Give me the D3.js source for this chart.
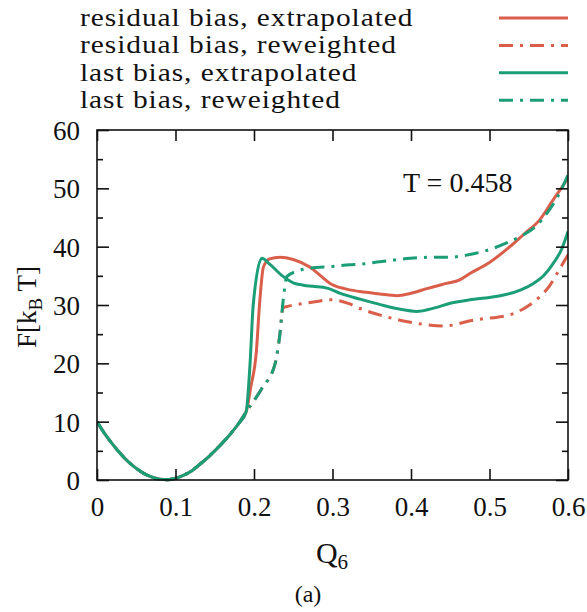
<!DOCTYPE html>
<html><head><meta charset="utf-8">
<script src="https://cdn.jsdelivr.net/npm/d3@7"></script>
<style>
html,body{margin:0;padding:0;background:#fff;}
text{font-family:"Liberation Serif","Times New Roman",serif;fill:#111;}
</style></head>
<body><svg id="chart" width="587" height="612"></svg>
<script>
// ---- data ----
const seriesNames = ["residual bias, extrapolated","residual bias, reweighted","last bias, extrapolated","last bias, reweighted"];
const lowQ = [0,0.01,0.02,0.03,0.04,0.05,0.06,0.07,0.08,0.09,0.10,0.11,0.12,0.13,0.14,0.15,0.16,0.17,0.18,0.19];
const lowF = [10,7.9,6.1,4.5,3.1,2.0,1.1,0.5,0.12,0.05,0.3,0.8,1.5,2.6,3.7,5.0,6.4,7.9,9.6,11.7];

const resExtQ = [0.196,0.203,0.207,0.212,0.22,0.233,0.25,0.271,0.285,0.297,0.315,0.335,0.36,0.382,0.40,0.42,0.445,0.462,0.475,0.50,0.526,0.545,0.564,0.58,0.60];
const resExtF = [16,22,30,36.5,37.9,38.2,37.8,36.5,35,33.7,32.8,32.3,31.9,31.6,32,32.8,33.7,34.3,35.4,37.3,40,42.3,44.6,47.8,51.7];

const resRewQ = [0.20,0.21,0.227,0.233,0.237,0.244,0.26,0.28,0.297,0.31,0.322,0.335,0.36,0.386,0.41,0.441,0.455,0.469,0.49,0.51,0.526,0.545,0.564,0.576,0.586,0.60];
const resRewF = [13.6,15.7,20,25,29.5,29.8,30.2,30.6,30.9,30.7,30.2,29.4,28.3,27.4,26.8,26.4,26.6,27.1,27.6,27.9,28.3,29.5,31.4,33.2,35.4,38.6];

const lastExtQ = [0.195,0.199,0.21,0.22,0.237,0.25,0.263,0.275,0.293,0.31,0.335,0.36,0.385,0.407,0.43,0.45,0.475,0.50,0.518,0.54,0.556,0.57,0.581,0.592,0.60];
const lastExtF = [20,30,38,37,34.9,33.8,33.4,33.2,32.9,32,31,30.1,29.3,28.9,29.5,30.3,30.9,31.3,31.7,32.6,33.7,35.2,37.1,39.6,42.6];

const lastRewQ = [0.20,0.21,0.227,0.233,0.237,0.242,0.255,0.271,0.30,0.322,0.335,0.36,0.399,0.43,0.45,0.473,0.50,0.526,0.543,0.56,0.573,0.587,0.60];
const lastRewF = [13.6,15.7,20,25,30.6,34.9,35.8,36.3,36.6,36.9,37.0,37.4,38.0,38.2,38.2,38.6,39.5,40.9,42,43.6,45.7,48.6,52.3];

const xTicks = [0,0.1,0.2,0.3,0.4,0.5,0.6];
const yTicks = [0,10,20,30,40,50,60];
const yMinor = [5,15,25,35,45,55];
const annotation = "T = 0.458";

const red = "#d95f4b", green = "#1b9e77";
const dashDot = "14,7,3,7";

// ---- build ----
function zip(qs, fs){ return qs.map((q,i)=>({q:q,f:fs[i]})); }
const low = zip(lowQ, lowF);
const series = [
  {name:seriesNames[0], color:red, dash:null, pts: low.concat(zip(resExtQ,resExtF))},
  {name:seriesNames[1], color:red, dash:dashDot, pts: low.concat(zip(resRewQ,resRewF))},
  {name:seriesNames[2], color:green, dash:null, pts: low.concat(zip(lastExtQ,lastExtF))},
  {name:seriesNames[3], color:green, dash:dashDot, pts: low.concat(zip(lastRewQ,lastRewF))}
];

const svg = d3.select("#chart");
const L=97, R=568, T=130, B=480;
const x = d3.scaleLinear().domain([0,0.6]).range([L,R]);
const y = d3.scaleLinear().domain([0,60]).range([B,T]);

// curves (clip to plot)
svg.append("clipPath").attr("id","clip").append("rect").attr("x",L).attr("y",T-2).attr("width",R-L).attr("height",B-T+4);
const line = d3.line().x(d=>x(d.q)).y(d=>y(d.f)).curve(d3.curveMonotoneX);
const g = svg.append("g").attr("clip-path","url(#clip)");
series.forEach(s=>{
  g.append("path").datum(s.pts).attr("d",line).attr("fill","none")
   .attr("stroke",s.color).attr("stroke-width",3)
   .attr("stroke-dasharray",s.dash).attr("stroke-linejoin","round");
});

// frame
svg.append("rect").attr("x",L).attr("y",T).attr("width",R-L).attr("height",B-T)
  .attr("fill","none").attr("stroke","#111").attr("stroke-width",1.6);

// axes (inward ticks, mirrored)
const fmtX = d=> d===0 ? "0" : d3.format(".1f")(d);
const xb = svg.append("g").attr("transform",`translate(0,${B})`)
  .call(d3.axisBottom(x).tickValues(xTicks).tickSize(-11).tickPadding(17).tickFormat(fmtX));
const xt = svg.append("g").attr("transform",`translate(0,${T})`)
  .call(d3.axisTop(x).tickValues(xTicks).tickSize(-11).tickFormat(""));
const yl = svg.append("g").attr("transform",`translate(${L},0)`)
  .call(d3.axisLeft(y).tickValues(yTicks).tickSize(-12).tickPadding(17).tickFormat(d3.format("d")));
const ylm = svg.append("g").attr("transform",`translate(${L},0)`)
  .call(d3.axisLeft(y).tickValues(yMinor).tickSize(-6).tickFormat(""));
const yr = svg.append("g").attr("transform",`translate(${R},0)`)
  .call(d3.axisRight(y).tickValues(yTicks).tickSize(-12).tickFormat(""));
const yrm = svg.append("g").attr("transform",`translate(${R},0)`)
  .call(d3.axisRight(y).tickValues(yMinor).tickSize(-6).tickFormat(""));
[xb,xt,yl,ylm,yr,yrm].forEach(a=>{
  a.select(".domain").remove();
  a.selectAll(".tick line").attr("stroke","#111").attr("stroke-width",1.6);
  a.selectAll(".tick text").attr("font-size",27).attr("fill","#111");
});
xb.selectAll(".tick text").attr("dy","0.71em");
yl.selectAll(".tick text").attr("dy","0.35em");

// axis titles
const yt = svg.append("text").attr("transform","translate(36,307) rotate(-90)")
  .attr("text-anchor","middle").attr("font-size",27);
yt.append("tspan").text("F[k");
yt.append("tspan").text("B").attr("font-size",19).attr("dy",6);
yt.append("tspan").text(" T]").attr("dy",-6);

const xtTitle = svg.append("text").attr("x",332).attr("y",563).attr("text-anchor","middle").attr("font-size",30);
xtTitle.append("tspan").text("Q");
xtTitle.append("tspan").text("6").attr("font-size",21).attr("dy",6);

svg.append("text").attr("x",308).attr("y",602).attr("text-anchor","middle").attr("font-size",24).text("(a)");

// annotation
svg.append("text").attr("x",403).attr("y",192).attr("font-size",28).text(annotation);

// legend
const leg = svg.append("g");
series.forEach((s,i)=>{
  const ly = 18 + i*27.4;
  leg.append("text").attr("x",80).attr("y",ly+8).attr("font-size",24.5)
    .attr("letter-spacing","0.8px")
    .attr("transform",`translate(80,0) scale(1.2,1) translate(-80,0)`).text(s.name);
  leg.append("line").attr("x1",499).attr("x2",568).attr("y1",ly).attr("y2",ly)
    .attr("stroke",s.color).attr("stroke-width",3).attr("stroke-dasharray",s.dash);
});
</script></body></html>
